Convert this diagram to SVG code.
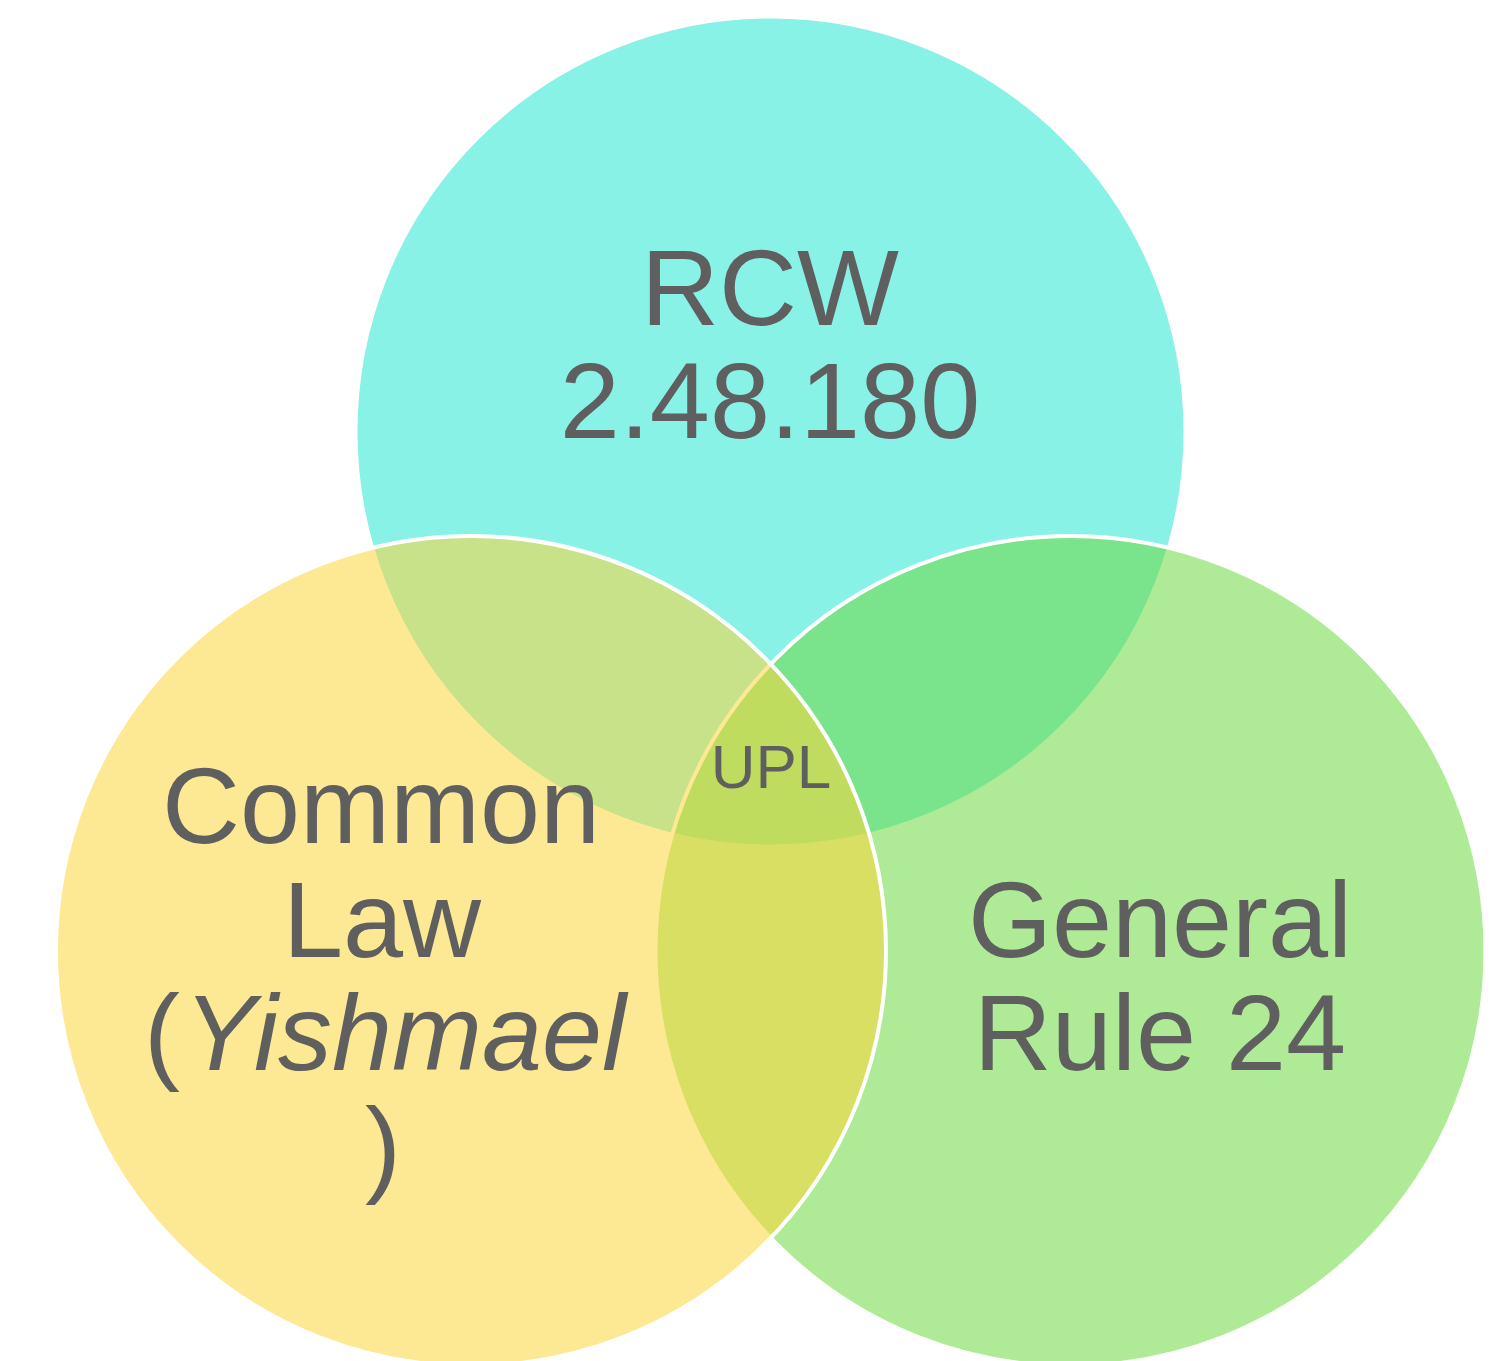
<svg xmlns="http://www.w3.org/2000/svg" width="1496" height="1361" viewBox="0 0 1496 1361">
<style>
.c{stroke:#ffffff;stroke-width:4;fill-opacity:0.55}
.t{font-family:"Liberation Sans",Arial,sans-serif;fill:#5f5f5f;text-anchor:middle;font-size:108px}
</style>
<rect width="1496" height="1361" fill="#ffffff"/>
<g id="rcw">
<circle class="c" cx="770.5" cy="431.5" r="415" fill="#26e7d1"/>
</g>
<g id="rule24">
<circle class="c" cx="1070.5" cy="951" r="415" fill="#6dd840"/>
</g>
<g id="common">
<circle class="c" cx="471" cy="951" r="415" fill="#fbd63b"/>
</g>
<g id="labels">
<text class="t" x="770" y="325">RCW</text>
<text class="t" x="770" y="438">2.48.180</text>
<text class="t" x="381" y="843">Common</text>
<text class="t" x="382" y="957">Law</text>
<text class="t" x="385" y="1070">(<tspan font-style="italic" dx="4">Yishmael</tspan></text>
<text class="t" x="383" y="1183">)</text>
<text class="t" x="1160" y="957">General</text>
<text class="t" x="1160" y="1070">Rule 24</text>
<text class="t" x="771" y="788" style="font-size:62px">UPL</text>
</g>
</svg>
